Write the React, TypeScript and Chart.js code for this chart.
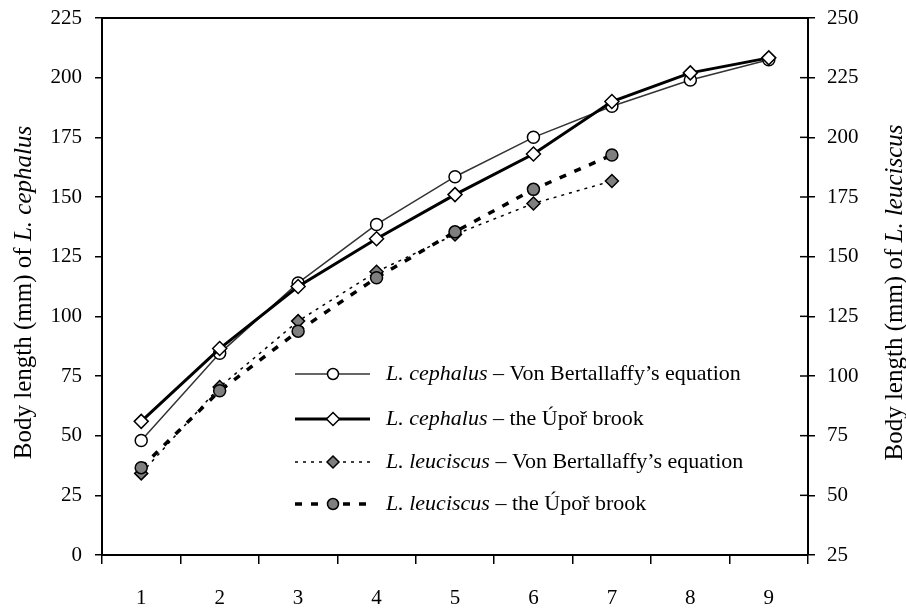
import React, { useEffect, useRef } from 'react';
import { Chart, registerables } from 'chart.js';

Chart.register(...registerables);

// ---- data ----
const ages = ['1', '2', '3', '4', '5', '6', '7', '8', '9'];
const cephalusVB = [48, 84.5, 114, 138.5, 158.5, 175, 188, 199, 207.5];
const cephalusBrook = [56, 86.5, 112.5, 132.5, 151, 168, 190, 202, 208.3];
const leuciscusVB = [59.2, 95.4, 123, 143.7, 159.3, 172.3, 181.7, null, null];
const leuciscusBrook = [61.6, 93.8, 118.8, 141.2, 160.4, 178.2, 192.6, null, null];
const leftAxis = { min: 0, max: 225, step: 25 };
const rightAxis = { min: 25, max: 250, step: 25 };
const leftTitle = ['Body length (mm) of ', 'L. cephalus'];
const rightTitle = ['Body length (mm) of ', 'L. leuciscus'];
const legendItems = [
  ['L. cephalus', ' – Von Bertallaffy’s equation'],
  ['L. cephalus', ' – the Úpoř brook'],
  ['L. leuciscus', ' – Von Bertallaffy’s equation'],
  ['L. leuciscus', ' – the Úpoř brook'],
];

const FONT = '"Liberation Serif", "Times New Roman", serif';
const GREY = '#7f7f7f';

const styles = [
  { line: '#333333', width: 1.5, dash: [] as number[], shape: 'circle', fill: '#ffffff', r: 6 },
  { line: '#000000', width: 3, dash: [] as number[], shape: 'diamond', fill: '#ffffff', r: 7 },
  { line: '#000000', width: 1.5, dash: [3, 5], shape: 'diamond', fill: GREY, r: 6.5 },
  { line: '#000000', width: 3.5, dash: [7, 9], shape: 'circle', fill: GREY, r: 6 },
];

function drawMarker(ctx: CanvasRenderingContext2D, shape: string, x: number, y: number, r: number, fill: string) {
  ctx.save();
  ctx.setLineDash([]);
  ctx.beginPath();
  if (shape === 'circle') {
    ctx.arc(x, y, r, 0, Math.PI * 2);
  } else {
    ctx.moveTo(x, y - r);
    ctx.lineTo(x + r, y);
    ctx.lineTo(x, y + r);
    ctx.lineTo(x - r, y);
    ctx.closePath();
  }
  ctx.fillStyle = fill;
  ctx.fill();
  ctx.lineWidth = 1.5;
  ctx.strokeStyle = '#000';
  ctx.stroke();
  ctx.restore();
}

function drawMixed(ctx: CanvasRenderingContext2D, parts: string[], italicIndex: number, x: number, y: number, size: number, center: boolean) {
  const fonts = parts.map((_, i) => (i === italicIndex ? `italic ${size}px ${FONT}` : `${size}px ${FONT}`));
  const widths = parts.map((p, i) => {
    ctx.font = fonts[i];
    return ctx.measureText(p).width;
  });
  const total = widths.reduce((a, b) => a + b, 0);
  let cx = center ? x - total / 2 : x;
  ctx.textBaseline = 'middle';
  ctx.textAlign = 'left';
  ctx.fillStyle = '#000';
  parts.forEach((p, i) => {
    ctx.font = fonts[i];
    ctx.fillText(p, cx, y);
    cx += widths[i];
  });
}

const decorPlugin = {
  id: 'decor',
  afterDraw(chart: any) {
    const ctx: CanvasRenderingContext2D = chart.ctx;
    const area = chart.chartArea;
    ctx.save();
    // top frame line
    ctx.strokeStyle = '#000';
    ctx.lineWidth = 2;
    ctx.beginPath();
    ctx.moveTo(area.left - 1, area.top);
    ctx.lineTo(area.right + 1, area.top);
    ctx.stroke();
    // inward ticks on the right axis
    const y1 = chart.scales.y1;
    ctx.lineWidth = 1.5;
    y1.ticks.forEach((t: any) => {
      const py = y1.getPixelForValue(t.value);
      ctx.beginPath();
      ctx.moveTo(area.right - 8, py);
      ctx.lineTo(area.right, py);
      ctx.stroke();
    });

    // axis titles
    const midY = (area.top + area.bottom) / 2 + 6;
    ctx.save();
    ctx.translate(24, midY);
    ctx.rotate(-Math.PI / 2);
    drawMixed(ctx, leftTitle, 1, 0, 0, 25, true);
    ctx.restore();
    ctx.save();
    ctx.translate(895, midY);
    ctx.rotate(-Math.PI / 2);
    drawMixed(ctx, rightTitle, 1, 0, 0, 25, true);
    ctx.restore();

    // legend
    const rows = [374, 419, 462, 504];
    const x0 = area.left + 193;
    const x1 = area.left + 268;
    const mx = area.left + 231;
    const tx = area.left + 284;
    legendItems.forEach((item, i) => {
      const s = styles[i];
      const y = rows[i];
      ctx.save();
      ctx.strokeStyle = s.line;
      ctx.lineWidth = s.width;
      ctx.setLineDash(s.dash);
      ctx.beginPath();
      ctx.moveTo(x0, y);
      ctx.lineTo(x1, y);
      ctx.stroke();
      ctx.restore();
      drawMarker(ctx, s.shape, mx, y, s.r - 0.5, s.fill);
      drawMixed(ctx, item, 0, tx, y, 22, false);
    });
    ctx.restore();
  },
};

function noPad(s: any) {
  s.paddingTop = 0;
  s.paddingBottom = 0;
  s.paddingLeft = 0;
  s.paddingRight = 0;
}

export default function App() {
  const ref = useRef<HTMLCanvasElement | null>(null);
  useEffect(() => {
    if (!ref.current) return;
    const series = [cephalusVB, cephalusBrook, leuciscusVB, leuciscusBrook];
    const axes = ['y', 'y', 'y1', 'y1'];
    const datasets = series.map((data, i) => {
      const s = styles[i];
      return {
        label: legendItems[i].join(''),
        data,
        yAxisID: axes[i],
        borderColor: s.line,
        borderWidth: s.width,
        borderDash: s.dash,
        pointStyle: s.shape === 'circle' ? 'circle' : 'rectRot',
        pointRadius: s.r,
        pointBackgroundColor: s.fill,
        pointBorderColor: '#000',
        pointBorderWidth: 1.5,
        tension: 0,
        fill: false,
        order: 4 - i,
      };
    });
    const tickFont = { family: FONT, size: 21 };
    const chart = new Chart(ref.current, {
      type: 'line',
      data: { labels: ages, datasets: datasets as any },
      options: {
        animation: false,
        responsive: false,
        devicePixelRatio: 1,
        layout: { padding: { top: 18, left: 0, right: 0, bottom: 0 } },
        plugins: { legend: { display: false }, tooltip: { enabled: false }, title: { display: false } },
        scales: {
          x: {
            type: 'category',
            offset: true,
            grid: { offset: true, drawOnChartArea: false, drawTicks: true, tickLength: 9, color: '#000', lineWidth: 1.5 },
            border: { color: '#000', width: 2 },
            ticks: { color: '#000', font: tickFont, padding: 22, maxRotation: 0, autoSkip: false },
            afterFit: (s: any) => { s.height = 55; noPad(s); },
          },
          y: {
            position: 'left',
            min: leftAxis.min,
            max: leftAxis.max,
            ticks: { stepSize: leftAxis.step, color: '#000', font: tickFont, padding: 13 },
            grid: { drawOnChartArea: false, drawTicks: true, tickLength: 7, color: '#000', lineWidth: 1.5 },
            border: { color: '#000', width: 2 },
            afterFit: (s: any) => { s.width = 102; noPad(s); },
          },
          y1: {
            position: 'right',
            min: rightAxis.min,
            max: rightAxis.max,
            ticks: { stepSize: rightAxis.step, color: '#000', font: tickFont, padding: 12 },
            grid: { drawOnChartArea: false, drawTicks: true, tickLength: 7, color: '#000', lineWidth: 1.5 },
            border: { color: '#000', width: 2 },
            afterFit: (s: any) => { s.width = 98; noPad(s); },
          },
        },
      } as any,
      plugins: [decorPlugin],
    });
    return () => chart.destroy();
  }, []);
  return (
    <div style={{ position: 'fixed', left: 0, top: 0, width: 906, height: 610, background: '#fff' }}>
      <canvas ref={ref} width={906} height={610} style={{ width: 906, height: 610, display: 'block' }} />
    </div>
  );
}
